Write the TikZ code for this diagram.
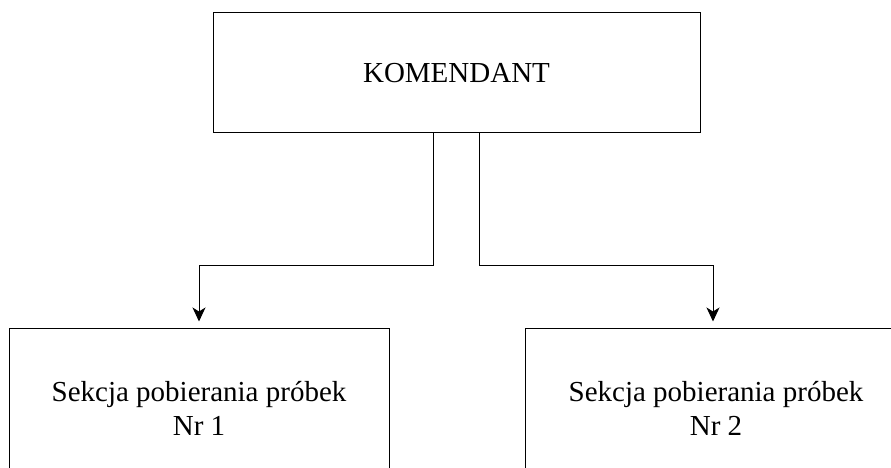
\documentclass[tikz,border=0pt]{standalone}
\usepackage{fontspec}
\setmainfont{Liberation Serif}
\usetikzlibrary{arrows.meta}
\begin{document}
\begin{tikzpicture}[x=1pt,y=-1pt,
  box/.style={draw=black, line width=1pt, inner sep=0pt, align=center,
    font=\fontsize{29}{33.5}\selectfont},
  conn/.style={draw=black, line width=1pt},
  arr/.style={conn, -{Stealth[length=14pt,width=13pt,inset=4pt]}}]
\clip (0,0) rectangle (891,468);
\fill[white] (0,0) rectangle (891,468);
\node[box, minimum width=487pt, minimum height=120pt] (top) at (456.5,73) {KOMENDANT};
\node[box, minimum width=380pt, minimum height=161pt] (s1) at (199,408.5)
  {Sekcja pobierania próbek\\Nr 1};
\node[box, minimum width=382pt, minimum height=161pt] (s2) at (716,408.5)
  {Sekcja pobierania próbek\\Nr 2};
\draw[arr] ([xshift=-23.5pt]top.south) -- ++(0,132) -| ([yshift=6pt]s1.north);
\draw[arr] ([xshift=22.5pt]top.south) -- ++(0,132) -| ([xshift=-3pt,yshift=6pt]s2.north);
\end{tikzpicture}
\end{document}
